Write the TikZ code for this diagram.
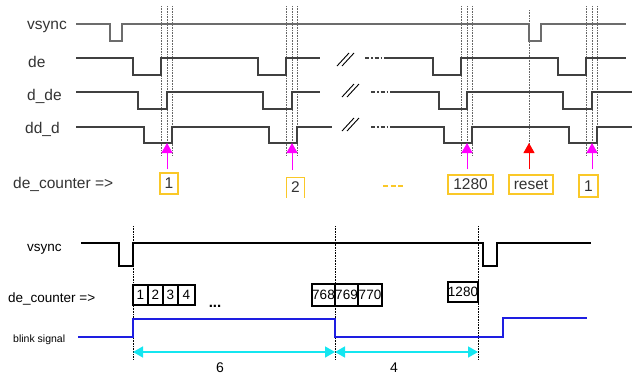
\documentclass[tikz,border=0pt]{standalone}
\usepackage{fontspec}
\setmainfont{Liberation Sans}
\usetikzlibrary{arrows.meta}
\definecolor{boxyellow}{RGB}{250,200,40}
\definecolor{mag}{RGB}{255,0,255}
\definecolor{cyanarr}{RGB}{20,230,240}
\definecolor{blinkblue}{RGB}{30,30,225}
\begin{document}
\begin{tikzpicture}[x=1pt,y=-1pt,
  wvs/.style={gray!85!black,line width=1.4pt},
  wtop/.style={black!75,line width=1.1pt},
  wbot/.style={black,line width=1.1pt},
  ddash/.style={black!75,line width=1.1pt,dash pattern=on 4pt off 2pt on 1.5pt off 2pt},
  brk/.style={black,line width=0.9pt},
  guide/.style={gray!80!black,densely dotted,line width=0.6pt},
  lbltop/.style={anchor=base west,inner sep=0pt,font=\fontsize{15.5}{18}\selectfont,text=black!80},
  lblbot/.style={anchor=base west,inner sep=0pt,font=\fontsize{13.5}{16}\selectfont},
  ybox/.style={draw=boxyellow,line width=1.3pt,inner sep=0pt,font=\fontsize{15.5}{18}\selectfont,text=black!80},
  cell/.style={draw=black,line width=1.2pt,inner sep=0pt,minimum height=20pt,font=\fontsize{13.5}{16}\selectfont},
  marr/.style={mag,line width=1pt,-{Triangle[width=11pt,length=10pt]}},
  rarr/.style={red,line width=1pt,-{Triangle[width=11pt,length=10pt]}},
  carr/.style={cyanarr,line width=1.5pt,{Triangle[width=11pt,length=10pt]}-{Triangle[width=11pt,length=10pt]}},
  blink/.style={blinkblue,line width=1.4pt}]
\useasboundingbox (0,0) rectangle (636,376);

% ---------- top part ----------
\node[lbltop] (lvs) at (27,29) {vsync};
\node[lbltop] (lde) at (28,67) {de};
\node[lbltop] (ldde) at (27,100) {d\_de};
\node[lbltop] (lddd) at (25,133) {dd\_d};
\node[lbltop] (lcnt) at (13,188) {de\_counter =>};

% guide lines
\foreach \x in {161,167,172,286,292,297,461,467,472,586,592,597}
  \draw[guide] (\x,6) -- (\x,155);
\draw[guide] (529,10) -- (529,145);

% vsync
\draw[wvs] (76,24)--(110,24)--(110,41)--(122,41)--(122,24)--(529,24)--(529,41)--(541,41)--(541,24)--(626,24);
% de
\draw[wtop] (76,58)--(133,58)--(133,75)--(161,75)--(161,58)--(258,58)--(258,75)--(286,75)--(286,58)--(320,58);
\draw[ddash] (365,58)--(388,58);
\draw[wtop] (388,58)--(433,58)--(433,75)--(461,75)--(461,58)--(558,58)--(558,75)--(586,75)--(586,58)--(626,58);
% d_de
\draw[wtop] (76,92)--(138,92)--(138,109)--(167,109)--(167,92)--(263,92)--(263,109)--(292,109)--(292,92)--(320,92);
\draw[ddash] (371,92)--(393,92);
\draw[wtop] (393,92)--(439,92)--(439,109)--(467,109)--(467,92)--(563,92)--(563,109)--(592,109)--(592,92)--(632,92);
% dd_d
\draw[wtop] (76,127)--(144,127)--(144,143)--(172,143)--(172,127)--(269,127)--(269,143)--(297,143)--(297,127)--(332,127);
\draw[ddash] (371,127)--(393,127);
\draw[wtop] (393,127)--(444,127)--(444,143)--(472,143)--(472,127)--(569,127)--(569,143)--(597,143)--(597,127)--(632,127);

% break marks
\draw[brk] (337,66)--(349,53) (342,66)--(354,53);
\draw[brk] (342,97)--(354,84) (347,97)--(359,84);
\draw[brk] (342,131)--(354,118) (347,131)--(359,118);

% counter boxes
\node[ybox,minimum width=18pt,minimum height=21pt] (b1) at (169,183.5) {1};
\node[draw=none,inner sep=0pt,minimum width=18pt,minimum height=20pt,font=\fontsize{15.5}{18}\selectfont,text=black!80] (b2) at (295.5,187.5) {2};
\draw[boxyellow,line width=1.5pt] (b2.south west)--(b2.north west)--(b2.north east)--(b2.south east);
\draw[boxyellow,line width=1.3pt,dash pattern=on 5pt off 2.5pt] (383,186)--(403,186);
\node[ybox,minimum width=45pt,minimum height=19pt] (b1280) at (470.5,184.5) {1280};
\node[ybox,minimum width=44pt,minimum height=19pt] (brst) at (531,184.5) {reset};
\node[ybox,minimum width=19pt,minimum height=22pt] (b1r) at (588.5,186) {1};

% arrows
\coordinate (a1) at (167,143);
\coordinate (a2) at (292,143);
\coordinate (a3) at (467,143);
\coordinate (a4) at (529,143);
\coordinate (a5) at (592,143);
\draw[marr] ([yshift=3pt]b1.north -| a1) -- (a1);
\draw[marr] ([yshift=7pt]b2.north -| a2) -- (a2);
\draw[marr] ([yshift=5pt]b1280.north -| a3) -- (a3);
\draw[rarr] ([yshift=5pt]brst.north -| a4) -- (a4);
\draw[marr] ([yshift=5pt]b1r.north -| a5) -- (a5);

% ---------- bottom part ----------
\node[lblbot] (lvs2) at (27,251) {vsync};
\node[lblbot] (lcnt2) at (8,302) {de\_counter =>};
\node[anchor=base west,inner sep=0pt,font=\fontsize{10.5}{12}\selectfont] (lbl) at (13,342) {blink signal};

\foreach \x in {133,335,478}
  \draw[guide,black] (\x,226) -- (\x,360);

\draw[wbot] (81,243)--(119,243)--(119,266)--(133,266)--(133,243)--(483,243)--(483,266)--(497,266)--(497,243)--(591,243);

\node[cell,minimum width=15pt] (c1) at (140.5,295) {1};
\node[cell,minimum width=15pt] (c2) at (155.5,295) {2};
\node[cell,minimum width=15pt] (c3) at (170.5,295) {3};
\node[cell,minimum width=17pt] (c4) at (186.5,295) {4};
\node[anchor=base,inner sep=0pt,font=\fontsize{15}{18}\selectfont\bfseries] (dots) at (215,307) {...};
\node[cell,minimum width=23pt,minimum height=22pt] (c768) at (323.5,295) {768};
\node[cell,minimum width=23pt,minimum height=22pt] (c769) at (346.5,295) {769};
\node[cell,minimum width=24pt,minimum height=22pt] (c770) at (370,295) {770};
\node[cell,minimum width=30pt] (c1280) at (463,292) {1280};

\draw[blink] (78,337)--(133,337)--(133,319)--(335,319)--(335,337)--(503,337)--(503,318)--(587,318);

\coordinate (p1) at (133,352);
\coordinate (p2) at (335,352);
\coordinate (p3) at (478,352);
\draw[carr] (p1) -- (p2);
\draw[carr] (p2) -- (p3);
\node[font=\fontsize{14}{16}\selectfont] (n6) at (220,368) {6};
\node[font=\fontsize{14}{16}\selectfont] (n4) at (394,368) {4};
\end{tikzpicture}
\end{document}
